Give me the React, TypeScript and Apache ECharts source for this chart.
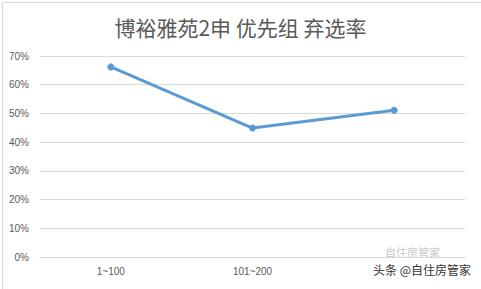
import React, { useEffect, useRef } from "react";
import * as echarts from "echarts";

const categories = ["1~100", "101~200", "201~300"];
const values = [0.662, 0.449, 0.511];
const yTicks = [0, 0.1, 0.2, 0.3, 0.4, 0.5, 0.6, 0.7];
const titleText = "博裕雅苑2申 优先组 弃选率";
const watermark = "头条 @自住房管家";
const watermarkFaint = "自住房管家";

export default function App() {
  const ref = useRef<HTMLDivElement>(null);
  useEffect(() => {
    if (!ref.current) return;
    const chart = echarts.init(ref.current, undefined, { renderer: "svg" });
    chart.setOption({
      animation: false,
      backgroundColor: "#ffffff",
      title: {
        text: titleText,
        left: "center",
        top: 11,
        textStyle: {
          fontFamily: "Noto Sans CJK SC",
          fontSize: 21,
          fontWeight: "normal",
          color: "#595959",
        },
      },
      grid: { left: 40, right: 16, top: 56, bottom: 32 },
      xAxis: {
        type: "category",
        data: categories,
        boundaryGap: true,
        axisLine: { lineStyle: { color: "#d9d9d9", width: 1 } },
        axisTick: { show: false },
        axisLabel: {
          color: "#595959",
          fontSize: 10,
          fontFamily: "Liberation Sans",
          margin: 9,
          // the third label is hidden under the watermark in the reference
          formatter: (v: string, i: number) => (i === 2 ? "" : v),
        },
      },
      yAxis: {
        type: "value",
        min: 0,
        max: yTicks[yTicks.length - 1],
        interval: 0.1,
        axisLine: { show: false },
        axisTick: { show: false },
        splitLine: { lineStyle: { color: "#d9d9d9", width: 1 } },
        axisLabel: {
          color: "#595959",
          fontSize: 10,
          fontFamily: "Liberation Sans",
          margin: 11,
          formatter: (v: number) => Math.round(v * 100) + "%",
        },
      },
      series: [
        {
          type: "line",
          data: values,
          symbol: "circle",
          symbolSize: 7,
          lineStyle: { color: "#5b9bd5", width: 3 },
          itemStyle: { color: "#5b9bd5" },
        },
      ],
      graphic: [
        {
          type: "rect",
          left: 0,
          top: 0,
          shape: { x: 0.5, y: 0.5, width: 480, height: 288 },
          style: { fill: "none", stroke: "#d9d9d9", lineWidth: 1 },
          silent: true,
        },
        {
          type: "text",
          left: 385,
          top: 246,
          style: {
            text: watermarkFaint,
            fontSize: 11,
            fontFamily: "Noto Sans CJK SC",
            fill: "#c8c8c8",
          },
          silent: true,
        },
        {
          type: "text",
          left: 373,
          top: 263,
          style: {
            text: watermark,
            fontSize: 12,
            fontFamily: "Noto Sans CJK SC",
            fill: "#333333",
          },
          silent: true,
        },
      ],
    });
    return () => chart.dispose();
  }, []);
  return (
    <div
      ref={ref}
      style={{ position: "absolute", left: 0, top: 0, width: 481, height: 289 }}
    />
  );
}
